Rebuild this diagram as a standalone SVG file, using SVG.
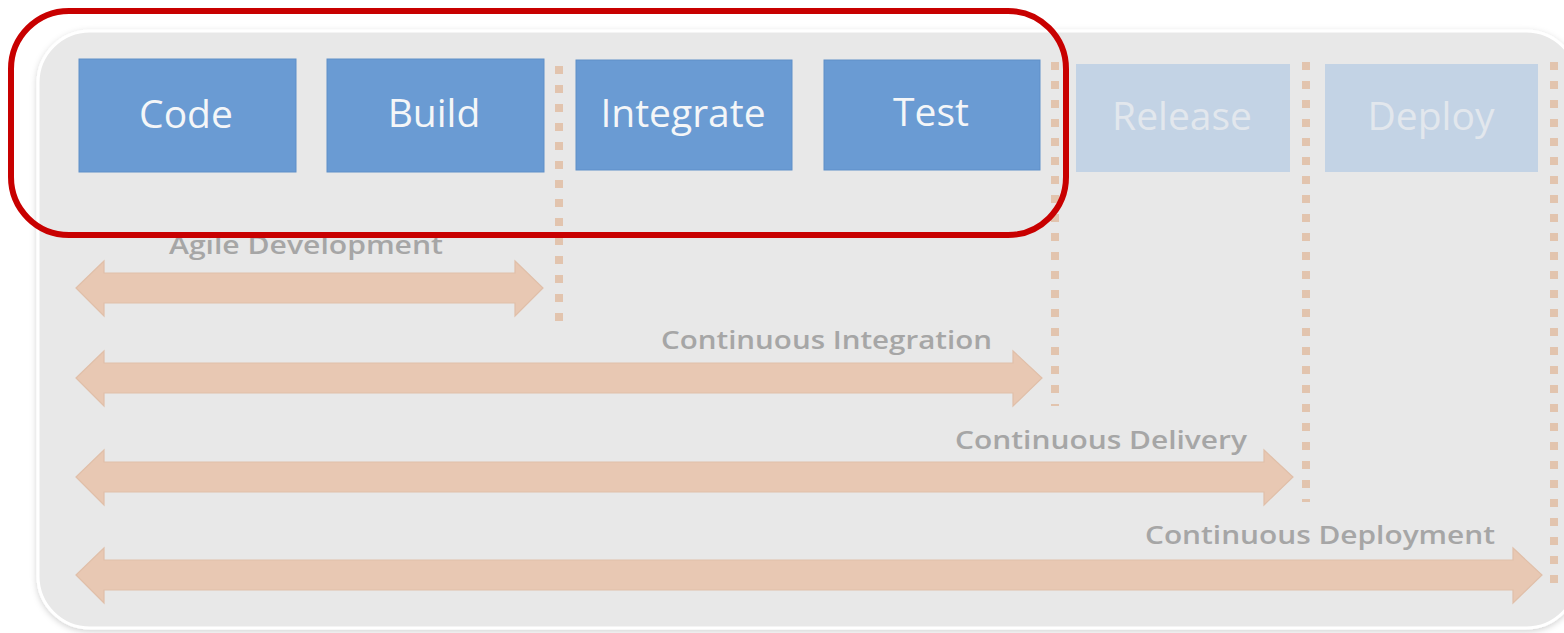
<svg xmlns="http://www.w3.org/2000/svg" width="1564" height="633" viewBox="0 0 1564 633">
<defs>
<filter id="sh" x="-5%" y="-5%" width="110%" height="110%">
<feDropShadow dx="0" dy="2" stdDeviation="3" flood-color="#000" flood-opacity="0.18"/>
</filter>
</defs>
<style>
.box{fill:#6a9bd3;stroke:#5f8fc8;stroke-width:1}
.lbox{fill:#c3d3e5}
.bt{font-family:"Open Sans","Liberation Sans",sans-serif;font-size:39px;fill:#f4f6f8;text-anchor:middle}
.lt{font-family:"Open Sans","Liberation Sans",sans-serif;font-size:39px;fill:#e2e7ed;text-anchor:middle}
.arr{fill:#e8c8b3;stroke:#e0bfa9;stroke-width:1.2}
.al{font-family:"Open Sans","Liberation Sans",sans-serif;font-size:26px;font-weight:600;fill:#a6a6a6}
.dot{stroke:#e2c4ae;stroke-width:8;stroke-dasharray:8 11;fill:none}
</style>
<rect x="0" y="0" width="1564" height="633" fill="#ffffff"/>
<rect id="panel" x="38" y="31" width="1540" height="597" rx="52" fill="#e8e8e8" stroke="#ffffff" stroke-width="3" filter="url(#sh)"/>
<g id="separators">
<line class="dot" x1="559" y1="66" x2="559" y2="328"/>
<line class="dot" x1="1055" y1="62" x2="1055" y2="406"/>
<line class="dot" x1="1306" y1="62" x2="1306" y2="502"/>
<line class="dot" x1="1554" y1="62" x2="1554" y2="594"/>
</g>
<g id="code"><rect class="box" x="79" y="59" width="217" height="113"/><text class="bt" x="186" y="128">Code</text></g>
<g id="build"><rect class="box" x="327" y="59" width="217" height="113"/><text class="bt" x="434" y="127">Build</text></g>
<g id="integrate"><rect class="box" x="576" y="60" width="216" height="110"/><text class="bt" x="683" y="127">Integrate</text></g>
<g id="test"><rect class="box" x="824" y="60" width="216" height="110"/><text class="bt" x="931" y="126">Test</text></g>
<g id="release"><rect class="lbox" x="1076" y="64" width="214" height="108"/><text class="lt" x="1182" y="130">Release</text></g>
<g id="deploy"><rect class="lbox" x="1325" y="64" width="213" height="108"/><text class="lt" x="1431" y="130">Deploy</text></g>
<g id="connectors">
<polygon class="arr" points="76,288 104,261 104,273 515,273 515,261 543,288 515,316 515,303 104,303 104,316"/>
<polygon class="arr" points="76,378 104,351 104,363 1013,363 1013,351 1042,378 1013,406 1013,393 104,393 104,406"/>
<polygon class="arr" points="76,477 104,450 104,462 1264,462 1264,450 1293,477 1264,505 1264,492 104,492 104,505"/>
<polygon class="arr" points="76,575 104,548 104,560 1513,560 1513,548 1542,575 1513,603 1513,590 104,590 104,603"/>
</g>
<g id="labels">
<text class="al" x="169" y="254" textLength="274" lengthAdjust="spacingAndGlyphs">Agile Development</text>
<text class="al" x="661" y="349" textLength="331" lengthAdjust="spacingAndGlyphs">Continuous Integration</text>
<text class="al" x="955" y="449" textLength="292" lengthAdjust="spacingAndGlyphs">Continuous Delivery</text>
<text class="al" x="1145" y="544" textLength="350" lengthAdjust="spacingAndGlyphs">Continuous Deployment</text>
</g>
<rect id="highlight" x="11" y="11" width="1055" height="224" rx="58" fill="none" stroke="#c80000" stroke-width="6"/>
</svg>
